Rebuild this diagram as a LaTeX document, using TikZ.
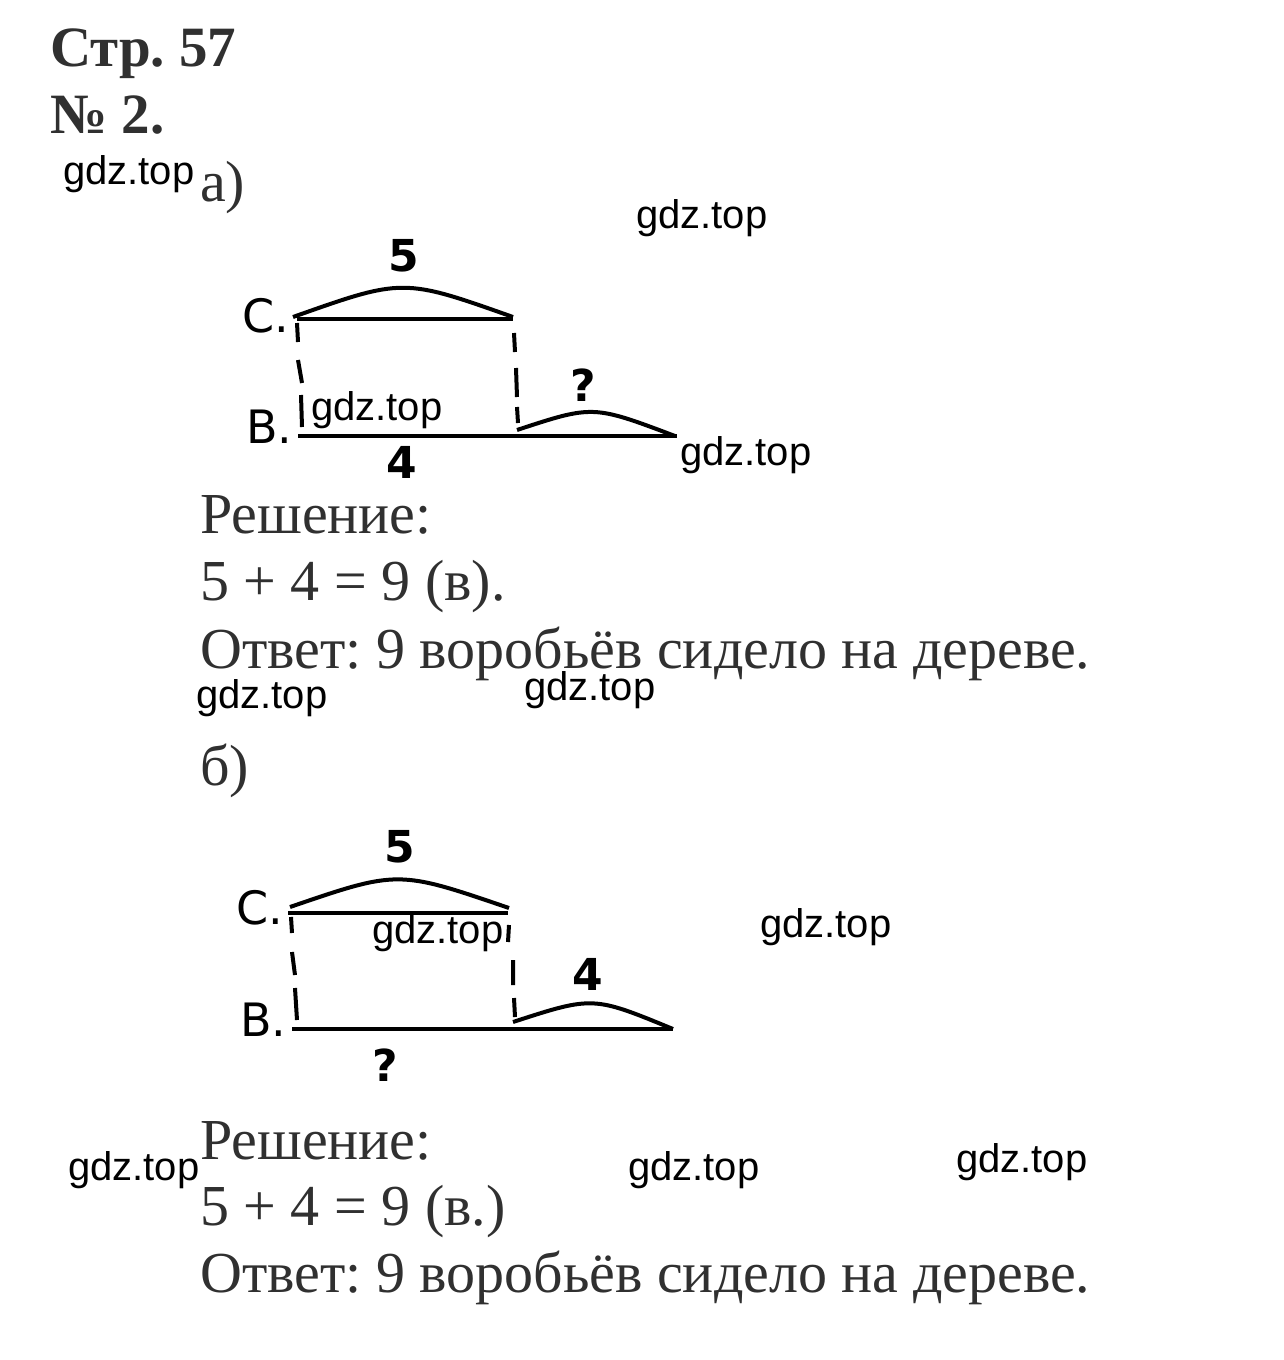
\documentclass[tikz,border=0pt]{standalone}
\usepackage{fontspec}
\setmainfont{Liberation Serif}
\newfontfamily\gdzfont{Liberation Sans}
\newfontfamily\handfont{DejaVu Sans}
\definecolor{txtgrey}{RGB}{48,48,48}
\tikzset{
  txt/.style={anchor=base west, inner sep=0pt, text=txtgrey, font=\fontsize{58}{64}\selectfont\frenchspacing},
  ttl/.style={anchor=base west, inner sep=0pt, text=txtgrey, font=\fontsize{57}{64}\selectfont\bfseries\frenchspacing},
  wm/.style={anchor=base west, inner sep=0pt, font=\gdzfont\fontsize{40}{44}\selectfont},
  hand/.style={inner sep=0pt, font=\handfont\fontsize{44}{48}\selectfont\bfseries},
  lbl/.style={inner sep=0pt, anchor=base west, font=\handfont\fontsize{46}{48}\selectfont},
  seg/.style={line width=4.5pt},
  arcl/.style={line width=4pt},
  dsh/.style={line width=4pt},
}
\begin{document}
\begin{tikzpicture}[x=1pt,y=-1pt]
\useasboundingbox (0,0) rectangle (1283,1360);
\fill[white] (0,0) rectangle (1283,1360);
% headings
\node[ttl] (t1) at (50,66) {Стр. 57};
\node[ttl] (t2) at (50,133) {№ 2.};
\node[wm] (w1) at (63,184) {gdz.top};
\node[txt] (pa) at (200,201) {а)};
\node[wm] (w2) at (636,228) {gdz.top};
% diagram a
\coordinate (aC1) at (297,319);
\coordinate (aC2) at (513,319);
\coordinate (aB1) at (298,436);
\coordinate (aB2) at (677,436);
\coordinate (aM) at (517,430);
\draw[seg] (aC1) -- (aC2);
\draw[seg] (aB1) -- (aB2);
\draw[arcl] (293,317) .. controls (403,278) .. (513,317);
\draw[arcl] (aM) .. controls (593,405) .. (675,436);
\draw[dsh] (297,323) -- (298,342) (298,360) -- (302,383) (301,395) -- (302,427);
\draw[dsh] (514,333) -- (515,352) (516,368) -- (517,397) (517,407) -- (518,423);
\node[hand] (a5) at (404,256) {5};
\node[hand] (aq) at (583,385) {?};
\node[hand] (a4) at (402,462) {4};
\node[lbl] (aCl) at (242,332) {С.};
\node[lbl] (aBl) at (246,443) {В.};
\node[wm] (w3) at (311,420) {gdz.top};
\node[wm] (w4) at (680,465) {gdz.top};
% solution a
\node[txt] (ra) at (200,533) {Решение:};
\node[txt] (ea) at (200,600) {5 + 4 = 9 (в).};
\node[txt] (oa) at (200,668) {Ответ: 9 воробьёв сидело на дереве.};
\node[wm] (w5) at (196,708) {gdz.top};
\node[wm] (w6) at (524,700) {gdz.top};
% diagram b
\node[txt] (pb) at (200,785) {б)};
\coordinate (bC1) at (288,913);
\coordinate (bC2) at (508,913);
\coordinate (bB1) at (292,1029);
\coordinate (bB2) at (673,1029);
\coordinate (bM) at (513,1022);
\draw[seg] (bC1) -- (bC2);
\draw[seg] (bB1) -- (bB2);
\draw[arcl] (290,907) .. controls (398,870) .. (509,908);
\draw[arcl] (bM) .. controls (593,996) .. (673,1029);
\draw[dsh] (291,917) -- (292,933) (292,952) -- (295,975) (295,988) -- (297,1020);
\draw[dsh] (509,925) -- (508,942) (513,960) -- (513,985) (514,998) -- (515,1017);
\node[hand] (b5) at (400,847) {5};
\node[hand] (b4) at (588,974) {4};
\node[hand] (bq) at (385,1065) {?};
\node[lbl] (bCl) at (236,924) {С.};
\node[lbl] (bBl) at (240,1036) {В.};
\node[wm] (w7) at (372,943) {gdz.top};
\node[wm] (w8) at (760,937) {gdz.top};
% solution b
\node[txt] (rb) at (200,1159) {Решение:};
\node[wm] (w9) at (68,1180) {gdz.top};
\node[wm] (w10) at (628,1180) {gdz.top};
\node[wm] (w11) at (956,1172) {gdz.top};
\node[txt] (eb) at (200,1225) {5 + 4 = 9 (в.)};
\node[txt] (ob) at (200,1292) {Ответ: 9 воробьёв сидело на дереве.};
\end{tikzpicture}
\end{document}
